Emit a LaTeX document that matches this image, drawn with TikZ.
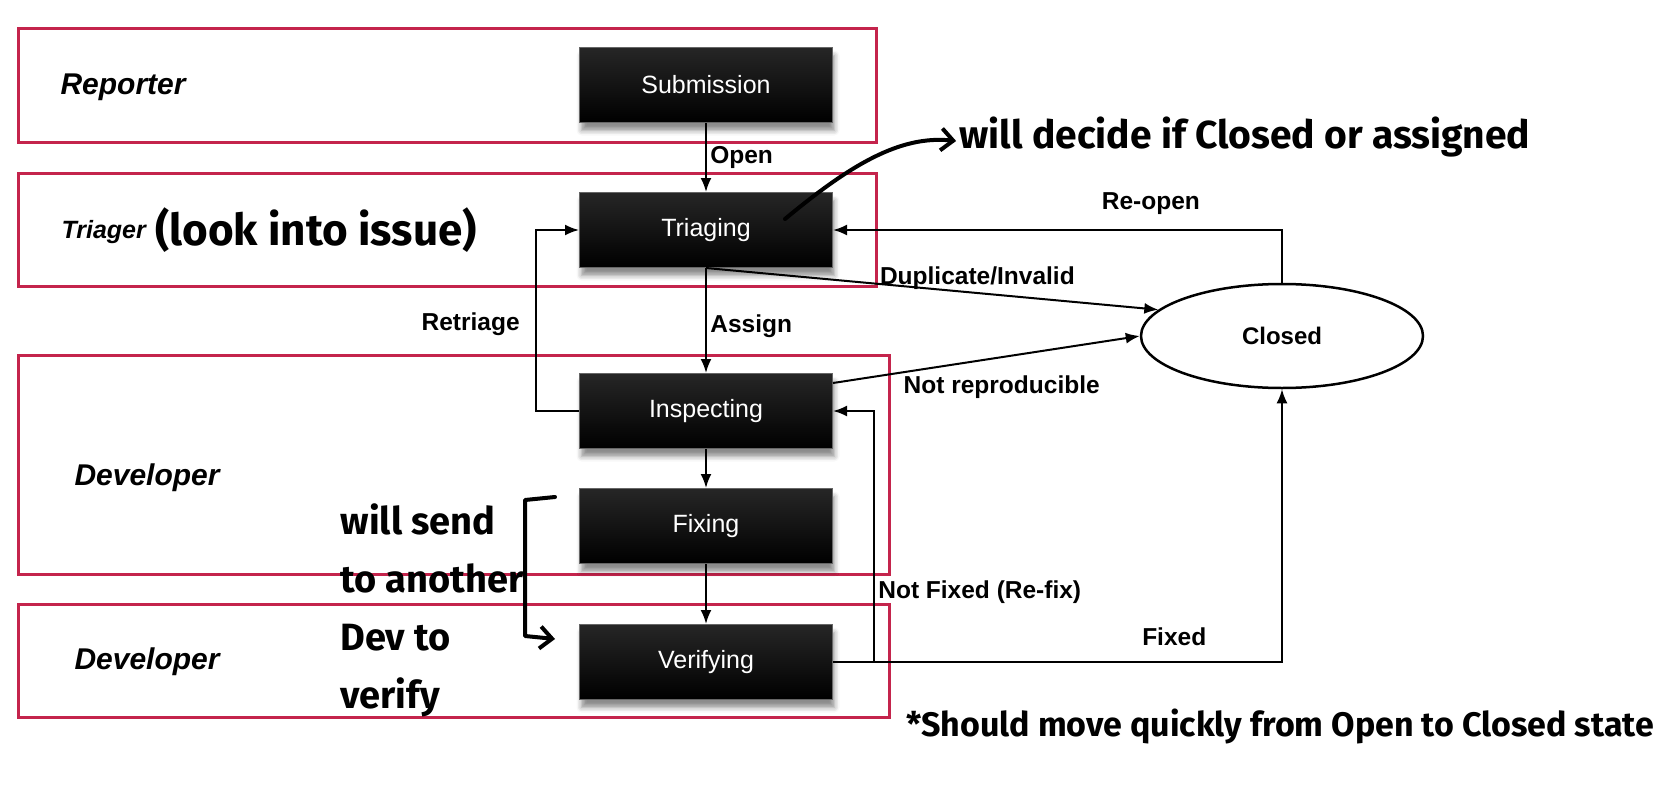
\documentclass[tikz,border=0pt]{standalone}
\usepackage{fontspec}
\setmainfont{Liberation Sans}
\newfontfamily\handfont{Fira Sans}
\usetikzlibrary{positioning,shapes,arrows.meta,shadows.blur}

\definecolor{lanered}{RGB}{196,36,76}

\tikzset{
  lane/.style={draw=lanered, line width=3pt},
  lanelabel/.style={anchor=west, font=\bfseries\itshape\fontsize{30}{34}\selectfont},
  state/.style={rectangle, top color=black!85, bottom color=black, draw=black!60, line width=1pt,
    minimum width=253pt, minimum height=75pt, text=white,
    font=\fontsize{25}{29}\selectfont,
    blur shadow={shadow xshift=2pt, shadow yshift=-8pt, shadow blur radius=5pt, shadow opacity=45}},
  closedstate/.style={ellipse, draw, line width=2.5pt, minimum width=282pt,
    minimum height=104pt, font=\bfseries\fontsize{24}{28}\selectfont},
  flow/.style={draw, line width=2pt, -{Latex[length=14pt,width=11pt]}},
  elabel/.style={font=\bfseries\fontsize{24.5}{28}\selectfont},
  hand/.style={font=\handfont\bfseries\fontsize{38}{58}\selectfont},
  handarrow/.style={line width=4pt, line cap=round, line join=round,
    -{Straight Barb[length=12pt,width=22pt]}}
}

\begin{document}
\begin{tikzpicture}[x=1pt,y=-1pt]
\useasboundingbox (0,0) rectangle (1675,784);

% swim lanes
\draw[lane] (18,29) rectangle (876,142);
\draw[lane] (18,173) rectangle (876,286);
\draw[lane] (18,355) rectangle (889,574);
\draw[lane] (18,604) rectangle (889,717);
\node[lanelabel] (reporterLbl) at (57,87) {Reporter};
\node[lanelabel, font=\bfseries\itshape\fontsize{25}{28}\selectfont] (triagerLbl) at (58,232) {Triager};
\node[lanelabel] (devLblA) at (71,478) {Developer};
\node[lanelabel] (devLblB) at (71,662) {Developer};

% states
\node[state] (submission) at (706,85) {Submission};
\node[state] (triaging) at (706,230) {Triaging};
\node[state] (inspecting) at (706,411) {Inspecting};
\node[state] (fixing) at (706,526) {Fixing};
\node[state] (verifying) at (706,662) {Verifying};
\node[closedstate] (closed) at (1282,336) {Closed};

% transitions
\draw[flow] (submission) -- node[elabel, right] {Open} (triaging);
\draw[flow] (triaging) -- node[elabel, right, pos=0.55] {Assign} (inspecting);
\draw[flow] (inspecting) -- (fixing);
\draw[flow] (fixing) -- (verifying);
\draw[flow] (inspecting.west) -- ++(-43,0) |- node[elabel, left=12pt, pos=0.24] {Retriage} (triaging.west);
\draw[flow] (closed.north) |- node[elabel, above=11pt, pos=0.646] {Re-open} (triaging.east);
\draw[flow] (triaging.south) -- node[elabel, above, pos=0.6, inner sep=2pt] {Duplicate/Invalid} (closed.168);
\draw[flow] ([yshift=-10pt]inspecting.north east) -- node[elabel, below=14pt, pos=0.55] {Not reproducible} (closed.west);
\draw[flow] (verifying.east) -- ++(41,0) |- node[elabel, right, pos=0.14] {Not Fixed (Re-fix)} (inspecting.east);
\draw[flow] (verifying.east) -| node[elabel, above=12pt, pos=0.38] {Fixed} (closed.south);

% handwritten notes
\node[hand, font=\handfont\bfseries\fontsize{39}{58}\selectfont] (decideNote) at (1245,137) {will decide if Closed or assigned};
\coordinate (decideTail) at (785,219);
\draw[handarrow] (decideTail) .. controls (850,165) and (900,135) .. ([yshift=-4pt]decideNote.west);
\node[hand, font=\handfont\bfseries\fontsize{44}{50}\selectfont] (issueNote) at (316,230) {(look into issue)};
\node[hand, align=left] (verifyNote) at (432,610) {will send\\to another\\Dev to\\verify};
\coordinate (braceTop) at (555,497);
\coordinate (braceEnd) at (555,639);
\draw[handarrow] (braceTop) -- (525,500) -- (525,636) -- (braceEnd);
\node[hand, font=\handfont\bfseries\fontsize{34}{40}\selectfont] (quickNote) at (1280,726) {*Should move quickly from Open to Closed state};
\end{tikzpicture}
\end{document}
